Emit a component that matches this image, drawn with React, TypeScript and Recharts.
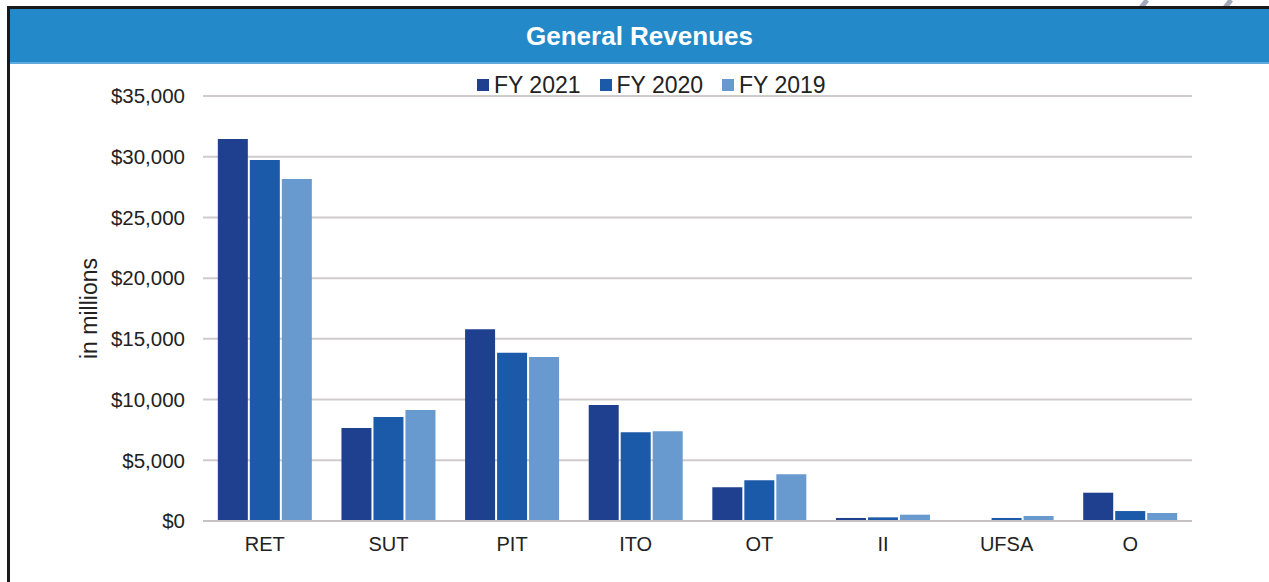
import { BarChart, Bar, XAxis, YAxis, CartesianGrid, Legend } from 'recharts';

const categories = ['RET', 'SUT', 'PIT', 'ITO', 'OT', 'II', 'UFSA', 'O'];
const fy2021 = [31450, 7650, 15800, 9550, 2780, 250, 60, 2330];
const fy2020 = [29730, 8570, 13850, 7300, 3350, 300, 250, 820];
const fy2019 = [28160, 9150, 13500, 7390, 3850, 520, 420, 660];
const yTicks = [0, 5000, 10000, 15000, 20000, 25000, 30000, 35000];

const SERIES = [
  { key: 'fy2021', label: 'FY 2021', color: '#1f3f8f' },
  { key: 'fy2020', label: 'FY 2020', color: '#1b5aa9' },
  { key: 'fy2019', label: 'FY 2019', color: '#6899cf' },
];

const FONT = '"Liberation Sans", Arial, sans-serif';

const data = categories.map((name, i) => ({
  name,
  fy2021: fy2021[i],
  fy2020: fy2020[i],
  fy2019: fy2019[i],
}));

const money = (v: number) => '$' + v.toLocaleString('en-US');

function LegendRow() {
  return (
    <div style={{ display: 'flex', fontFamily: FONT, fontSize: 23, lineHeight: '24px', color: '#222' }}>
      {SERIES.map((s) => (
        <div key={s.key} style={{ display: 'flex', alignItems: 'center', marginRight: 19 }}>
          <span style={{ width: 12, height: 12, background: s.color, marginRight: 5, display: 'inline-block' }} />
          <span>{s.label}</span>
        </div>
      ))}
    </div>
  );
}

export default function App() {
  return (
    <div style={{ position: 'absolute', left: 0, top: 0, width: 1269, height: 582, background: '#fff', overflow: 'hidden' }}>
      {/* decorative strokes above the frame */}
      <svg width={1269} height={10} style={{ position: 'absolute', left: 0, top: 0 }}>
        <line x1={1147} y1={0} x2={1140} y2={9} stroke="#a3aabb" strokeWidth={5} />
        <line x1={1231} y1={0} x2={1224} y2={9} stroke="#a3aabb" strokeWidth={5} />
      </svg>
      <div style={{ position: 'absolute', left: 7, top: 6, right: 0, height: 3, background: '#1a1a1a' }} />
      <div style={{ position: 'absolute', left: 7, top: 6, width: 3, bottom: 0, background: '#1a1a1a' }} />
      <div
        style={{
          position: 'absolute',
          left: 10,
          top: 9,
          right: 0,
          height: 53,
          background: '#2389c9',
          borderBottom: '2px solid #5fa9dc',
          color: '#fff',
          fontFamily: FONT,
          fontWeight: 'bold',
          fontSize: 26,
          lineHeight: '55px',
          textAlign: 'center',
        }}
      >
        General Revenues
      </div>
      <div style={{ position: 'absolute', left: 0, top: 0 }}>
        <BarChart
          width={1269}
          height={582}
          data={data}
          margin={{ top: 96, right: 77, bottom: 0, left: 0 }}
          barCategoryGap="12%"
          barGap={2}
        >
          <CartesianGrid vertical={false} stroke="#cfcbcb" strokeWidth={2} />
          <XAxis
            dataKey="name"
            height={61}
            tickLine={false}
            tickSize={0}
            tickMargin={16}
            axisLine={{ stroke: '#c6c2c2', strokeWidth: 2 }}
            tick={{ fontSize: 20, fill: '#222', fontFamily: FONT }}
            interval={0}
          />
          <YAxis
            width={203}
            domain={[0, 35000]}
            ticks={yTicks}
            tickFormatter={money}
            tickLine={false}
            tickSize={0}
            tickMargin={18}
            axisLine={false}
            tick={{ fontSize: 20.5, fill: '#222', fontFamily: FONT }}
            label={{
              value: 'in millions',
              angle: -90,
              position: 'insideLeft',
              offset: 89,
              style: { textAnchor: 'middle', fontSize: 23, fill: '#222', fontFamily: FONT },
            }}
          />
          <Legend
            layout="horizontal"
            verticalAlign="middle"
            align="center"
            content={() => <LegendRow />}
            wrapperStyle={{ left: 477, top: 73, width: 'auto', height: 24 }}
          />
          {SERIES.map((s) => (
            <Bar key={s.key} dataKey={s.key} name={s.label} fill={s.color} isAnimationActive={false} />
          ))}
        </BarChart>
      </div>
    </div>
  );
}
